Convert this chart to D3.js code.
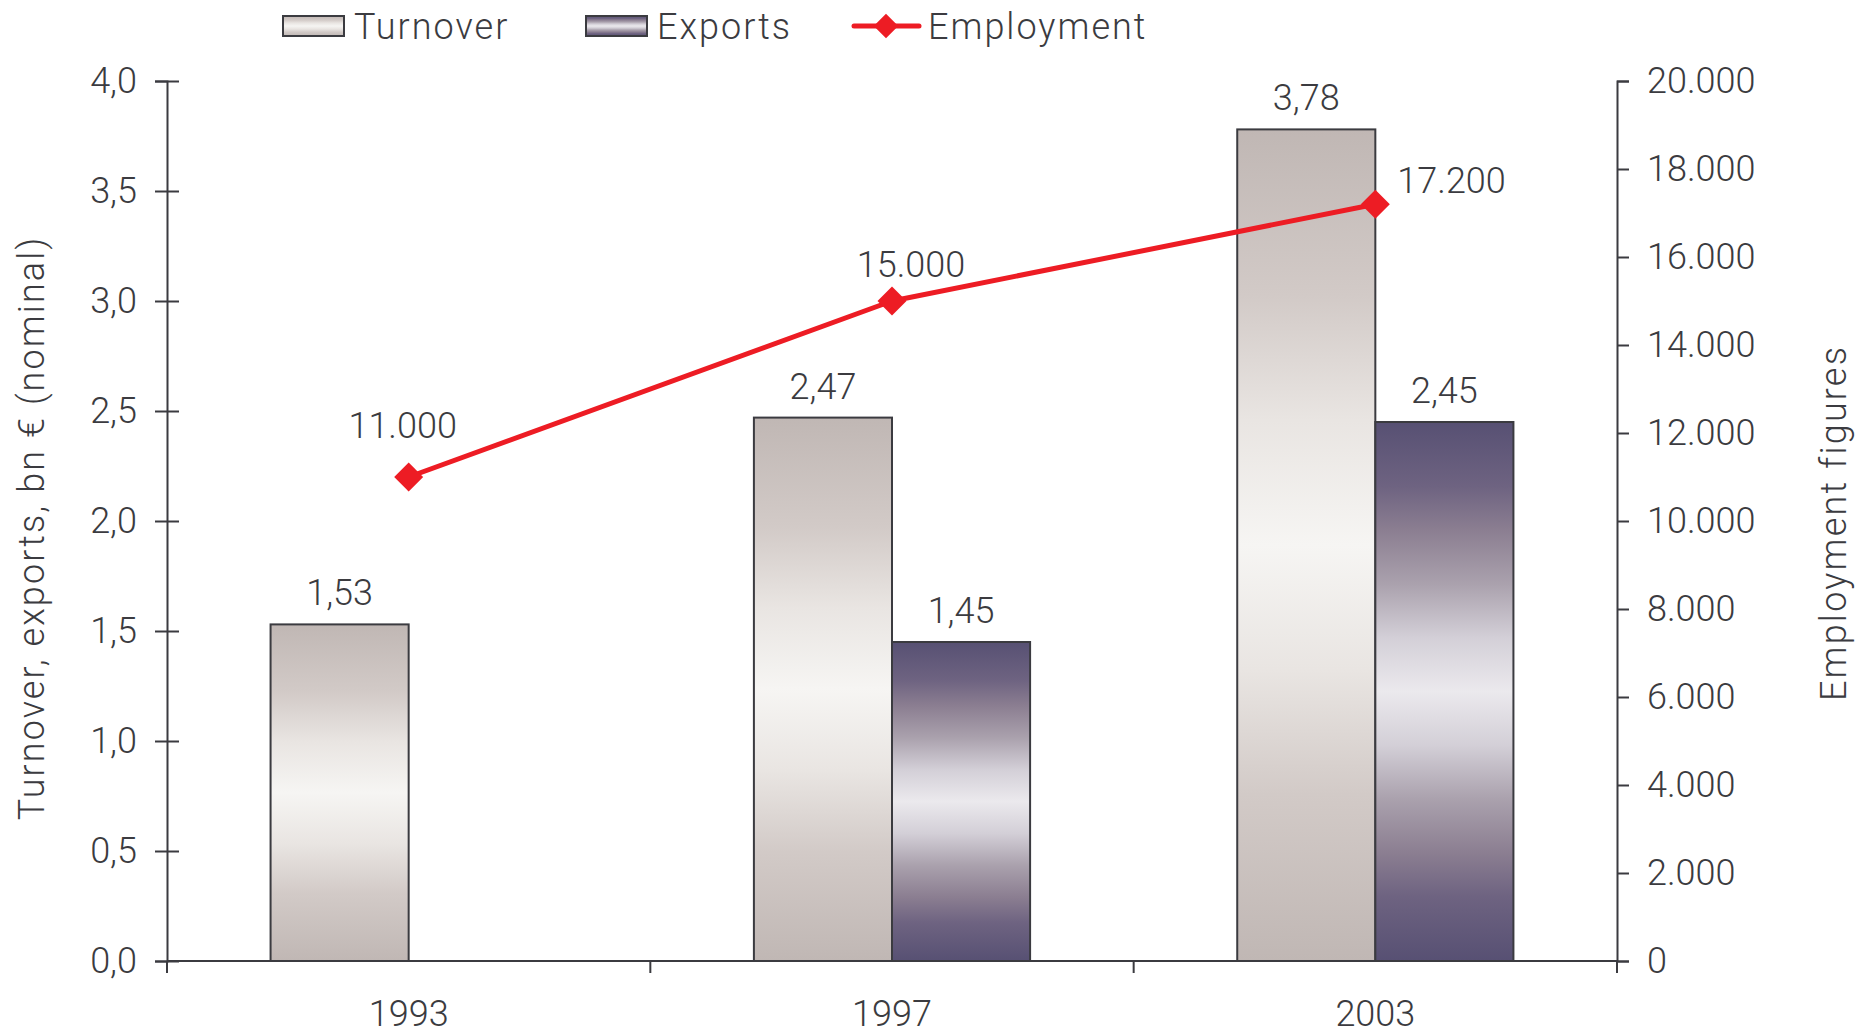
<!DOCTYPE html>
<html><head><meta charset="utf-8">
<script src="https://cdn.jsdelivr.net/npm/d3@7"></script>
<style>
body{margin:0;background:#fff}
svg text{font-family:Roboto, "Liberation Sans", sans-serif;font-weight:300;fill:#3b3b40}
</style>
</head><body>
<svg id="chart" width="1865" height="1036"></svg>
<script>
const categories = ["1993", "1997", "2003"];
const seriesNames = ["Turnover", "Exports"];
const turnover = [1.53, 2.47, 3.78];
const exportsVals = [null, 1.45, 2.45];
const employment = [11000, 15000, 17200];
const leftTicks = [0, 0.5, 1.0, 1.5, 2.0, 2.5, 3.0, 3.5, 4.0];
const rightTicks = [0, 2000, 4000, 6000, 8000, 10000, 12000, 14000, 16000, 18000, 20000];
const leftTitle = "Turnover, exports, bn € (nominal)";
const rightTitle = "Employment figures";
const legendLabels = ["Turnover", "Exports", "Employment"];

const loc = d3.formatLocale({decimal: ",", thousands: ".", grouping: [3], currency: ["", "€"]});
const f1 = loc.format(",.1f"), f2 = loc.format(",.2f"), f0 = loc.format(",.0f");

const ink = "#3b3b40";
const svg = d3.select("#chart");
const L = 167, R = 1617, B = 961, T = 81;

const x = d3.scaleBand().domain(categories).range([L, R]).padding(0);
const xs = d3.scaleBand().domain(seriesNames).range([0, x.bandwidth()]).paddingInner(0).paddingOuter(0.75);
const yL = d3.scaleLinear().domain([0, 4]).range([B, T]);
const yR = d3.scaleLinear().domain([0, 20000]).range([B, T]);

// gradients
const defs = svg.append("defs");
function grad(id, stops) {
  const g = defs.append("linearGradient").attr("id", id).attr("x1", 0).attr("y1", 0).attr("x2", 0).attr("y2", 1);
  stops.forEach(s => g.append("stop").attr("offset", s[0]).attr("stop-color", s[1]));
}
grad("gT", [[0, "#c0b7b4"], [0.2, "#d2cac7"], [0.35, "#e9e5e2"], [0.5, "#f6f5f3"], [0.65, "#e9e5e2"], [0.8, "#d2cac7"], [1, "#c0b7b4"]]);
grad("gE", [[0, "#575073"], [0.12, "#6e6381"], [0.2, "#8b7e91"], [0.3, "#aaa1ad"], [0.4, "#d3cfd7"], [0.5, "#ebe9ed"], [0.6, "#d3cfd7"], [0.7, "#aaa1ad"], [0.8, "#8b7e91"], [0.88, "#6e6381"], [1, "#575073"]]);
const fills = {Turnover: "url(#gT)", Exports: "url(#gE)"};

// bars
const barData = [];
categories.forEach((c, i) => {
  barData.push({cat: c, s: "Turnover", v: turnover[i]});
  if (exportsVals[i] != null) barData.push({cat: c, s: "Exports", v: exportsVals[i]});
});
svg.append("g").selectAll("rect").data(barData).join("rect")
  .attr("x", d => x(d.cat) + xs(d.s))
  .attr("y", d => yL(d.v))
  .attr("width", xs.bandwidth())
  .attr("height", d => yL(0) - yL(d.v))
  .attr("fill", d => fills[d.s])
  .attr("stroke", ink).attr("stroke-width", 2);

svg.append("g").selectAll("text").data(barData).join("text")
  .attr("x", d => x(d.cat) + xs(d.s) + xs.bandwidth() / 2)
  .attr("y", d => yL(d.v) - 19)
  .attr("text-anchor", "middle").attr("font-size", 36)
  .text(d => f2(d.v));

// axes
const axL = svg.append("g").attr("transform", `translate(${L},0)`)
  .call(d3.axisLeft(yL).tickValues(leftTicks).tickSize(12).tickPadding(18).tickFormat(f1));
axL.selectAll(".tick line").attr("x1", 12).attr("x2", -12);
const axR = svg.append("g").attr("transform", `translate(${R},0)`)
  .call(d3.axisRight(yR).tickValues(rightTicks).tickSize(12).tickPadding(18).tickFormat(f0));
const axB = svg.append("g").attr("transform", `translate(0,${B})`)
  .call(d3.axisBottom(x).tickSize(0).tickPadding(39));
axB.select(".domain").attr("d", `M${L},0H${R}`);
const bounds = categories.map(c => x(c)).concat([x.range()[1]]);
axB.selectAll(".bt").data(bounds).join("line").attr("class", "bt")
  .attr("x1", d => d).attr("x2", d => d).attr("y1", 0).attr("y2", 12);
[axL, axR, axB].forEach(a => {
  a.selectAll(".domain").attr("stroke", ink).attr("stroke-width", 2);
  a.selectAll("line").attr("stroke", ink).attr("stroke-width", 2);
  a.selectAll("text").attr("font-size", 36).attr("font-family", null).style("fill", ink);
});

// employment line
const cx = c => x(c) + x.bandwidth() / 2;
const pts = categories.map((c, i) => ({c, v: employment[i]}));
svg.append("path").datum(pts)
  .attr("d", d3.line().x(d => cx(d.c)).y(d => yR(d.v)))
  .attr("fill", "none").attr("stroke", "#ed1c24").attr("stroke-width", 5).attr("stroke-linejoin", "round");
svg.append("g").selectAll("path").data(pts).join("path")
  .attr("d", d3.symbol(d3.symbolSquare, 420))
  .attr("transform", d => `translate(${cx(d.c)},${yR(d.v)}) rotate(45)`)
  .attr("fill", "#ed1c24");
const placement = ["above", "above-right", "right"];
svg.append("g").selectAll("text").data(pts).join("text")
  .attr("x", (d, i) => cx(d.c) + (placement[i] === "right" ? 22 : placement[i] === "above-right" ? 19 : -6))
  .attr("y", (d, i) => yR(d.v) + (placement[i] === "right" ? -11 : placement[i] === "above-right" ? -24 : -39))
  .attr("text-anchor", (d, i) => placement[i] === "right" ? "start" : "middle")
  .attr("font-size", 36)
  .text(d => f0(d.v));

// titles
svg.append("text").attr("transform", "translate(44,528) rotate(-90)")
  .attr("text-anchor", "middle").attr("font-size", 36).attr("letter-spacing", 2.1).text(leftTitle);
svg.append("text").attr("transform", "translate(1846,523) rotate(-90)")
  .attr("text-anchor", "middle").attr("font-size", 36).attr("letter-spacing", 2.2).text(rightTitle);

// legend
const lg = svg.append("g");
const legX = [283, 586, 854];
[0, 1].forEach(i => {
  lg.append("rect").attr("x", legX[i]).attr("y", 16).attr("width", 61).attr("height", 20)
    .attr("fill", fills[seriesNames[i]]).attr("stroke", ink).attr("stroke-width", 2);
  lg.append("text").attr("x", legX[i] + 71).attr("y", 39).attr("font-size", 36).attr("letter-spacing", 2).text(legendLabels[i]);
});
lg.append("line").attr("x1", legX[2]).attr("x2", legX[2] + 65).attr("y1", 26).attr("y2", 26)
  .attr("stroke", "#ed1c24").attr("stroke-width", 5).attr("stroke-linecap", "round");
lg.append("path").attr("d", d3.symbol(d3.symbolSquare, 300)).attr("transform", `translate(${legX[2] + 32},26) rotate(45)`).attr("fill", "#ed1c24");
lg.append("text").attr("x", legX[2] + 74).attr("y", 39).attr("font-size", 36).attr("letter-spacing", 2).text(legendLabels[2]);
</script>
</body></html>
